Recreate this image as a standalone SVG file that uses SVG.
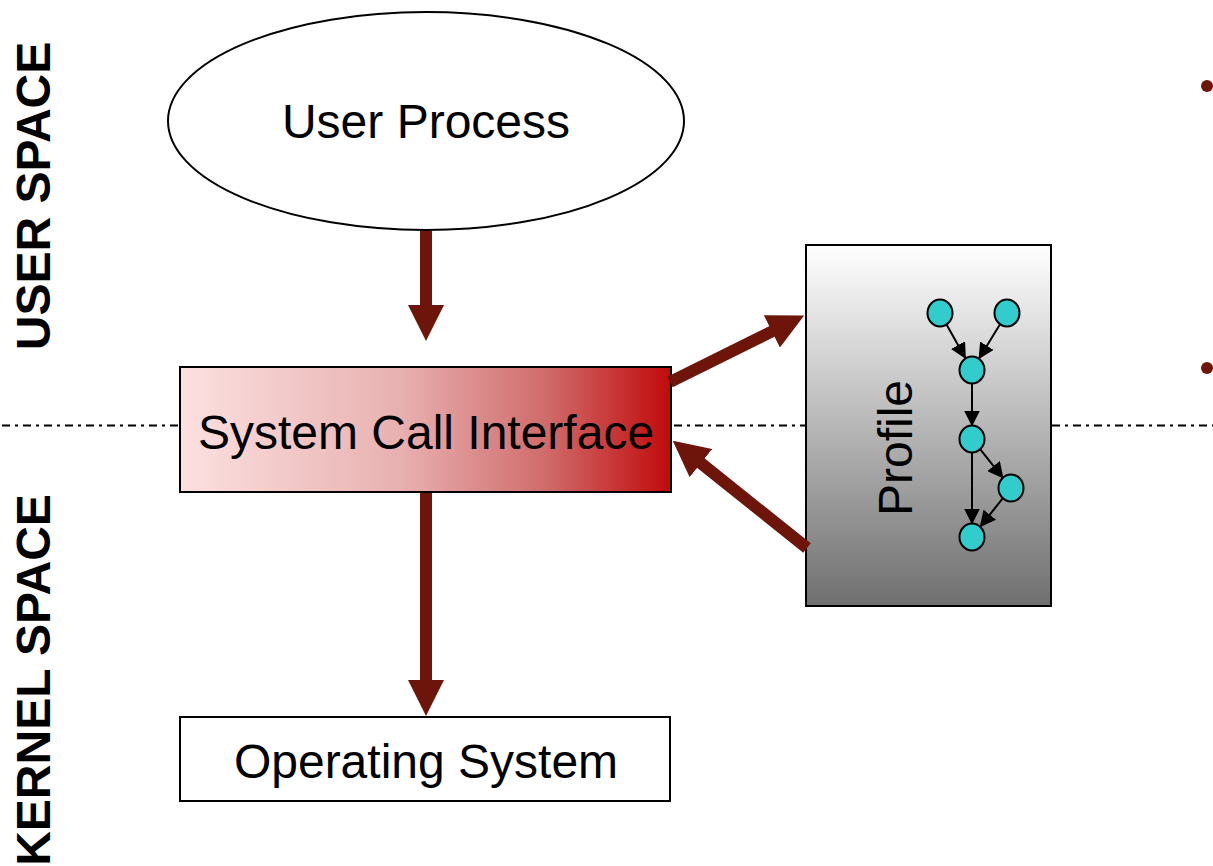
<svg xmlns="http://www.w3.org/2000/svg" width="1213" height="866" viewBox="0 0 1213 866">
  <style>
    .label { font-family: "Liberation Sans", Arial, sans-serif; font-size: 48px; fill: #000; }
    .side { font-family: "Liberation Sans", Arial, sans-serif; font-size: 48px; font-weight: bold; fill: #000; }
    .box { stroke: #000; stroke-width: 2; }
    .flow { stroke: #6d140b; stroke-width: 12; fill: none; }
    .node { fill: #33cccc; stroke: #000; stroke-width: 2; }
    .edge { stroke: #000; stroke-width: 2; fill: none; }
    .divider { stroke: #000; stroke-width: 2.2; stroke-dasharray: 8 5 3 5; fill: none; }
  </style>
  <defs>
    <linearGradient id="sciFill" x1="0" y1="0" x2="1" y2="0">
      <stop offset="0" stop-color="#fde0e0"/>
      <stop offset="0.45" stop-color="#e8b0b0"/>
      <stop offset="0.75" stop-color="#d06a6a"/>
      <stop offset="1" stop-color="#c10a0a"/>
    </linearGradient>
    <linearGradient id="profileFill" x1="0" y1="0" x2="0" y2="1">
      <stop offset="0" stop-color="#ffffff"/>
      <stop offset="1" stop-color="#6f6f6f"/>
    </linearGradient>
    <marker id="bigHead" markerUnits="userSpaceOnUse" markerWidth="36" markerHeight="36" viewBox="0 0 36 36" refX="1" refY="18" orient="auto">
      <path d="M0,0 L36,18 L0,36 z" fill="#6d140b"/>
    </marker>
    <marker id="smallHead" markerUnits="userSpaceOnUse" markerWidth="16" markerHeight="16" viewBox="0 0 16 16" refX="15" refY="8" orient="auto">
      <path d="M0,0 L16,8 L0,16 z" fill="#000"/>
    </marker>
  </defs>

  <rect width="1213" height="866" fill="#fff"/>

  <!-- boundary between user and kernel space -->
  <line class="divider" x1="2" y1="425.5" x2="1213" y2="425.5"/>

  <!-- side captions -->
  <text class="side" transform="translate(50,196) rotate(-90)" text-anchor="middle">USER SPACE</text>
  <text class="side" transform="translate(50,680) rotate(-90)" text-anchor="middle">KERNEL SPACE</text>

  <g id="user-process">
    <ellipse class="box" cx="426" cy="121" rx="258" ry="109" fill="#fff"/>
    <text class="label" x="426" y="138" text-anchor="middle">User Process</text>
  </g>

  <g id="system-call-interface">
    <rect class="box" x="180" y="367" width="491" height="125" fill="url(#sciFill)"/>
    <text class="label" x="426" y="449" text-anchor="middle">System Call Interface</text>
  </g>

  <g id="operating-system">
    <rect class="box" x="180" y="717" width="490" height="84" fill="#fff"/>
    <text class="label" x="426" y="778" text-anchor="middle">Operating System</text>
  </g>

  <g id="profile">
    <rect class="box" x="806" y="245" width="245" height="361" fill="url(#profileFill)"/>
    <text class="label" transform="translate(912,448) rotate(-90)" text-anchor="middle">Profile</text>
    <g id="profile-graph">
      <line class="edge" x1="946.4" y1="324.3" x2="965.4" y2="358.2" marker-end="url(#smallHead)"/>
      <line class="edge" x1="1000.2" y1="324.1" x2="979.1" y2="358.5" marker-end="url(#smallHead)"/>
      <line class="edge" x1="972" y1="383.5" x2="972" y2="425.5" marker-end="url(#smallHead)"/>
      <line class="edge" x1="972" y1="452.5" x2="972" y2="523.5" marker-end="url(#smallHead)"/>
      <line class="edge" x1="980.1" y1="449.2" x2="1002.9" y2="477.8" marker-end="url(#smallHead)"/>
      <line class="edge" x1="1002.9" y1="498.2" x2="980.4" y2="526.4" marker-end="url(#smallHead)"/>
      <ellipse class="node" cx="940" cy="313" rx="12.5" ry="13.5"/>
      <ellipse class="node" cx="1007" cy="313" rx="12.5" ry="13.5"/>
      <ellipse class="node" cx="972" cy="370" rx="12.5" ry="13.5"/>
      <ellipse class="node" cx="972" cy="439" rx="12.5" ry="13.5"/>
      <ellipse class="node" cx="1011" cy="488" rx="12.5" ry="13.5"/>
      <ellipse class="node" cx="972" cy="537" rx="12.5" ry="13.5"/>
    </g>
  </g>

  <g id="connectors">
    <line class="flow" x1="426" y1="231" x2="426" y2="306" marker-end="url(#bigHead)"/>
    <line class="flow" x1="426" y1="493" x2="426" y2="681" marker-end="url(#bigHead)"/>
    <line class="flow" x1="670" y1="382" x2="772.8" y2="331" marker-end="url(#bigHead)"/>
    <line class="flow" x1="807" y1="548" x2="700.1" y2="462.5" marker-end="url(#bigHead)"/>
  </g>

  <!-- list bullets on the right edge -->
  <circle cx="1207" cy="86" r="6" fill="#6d140b"/>
  <circle cx="1207" cy="368" r="6" fill="#6d140b"/>
</svg>
